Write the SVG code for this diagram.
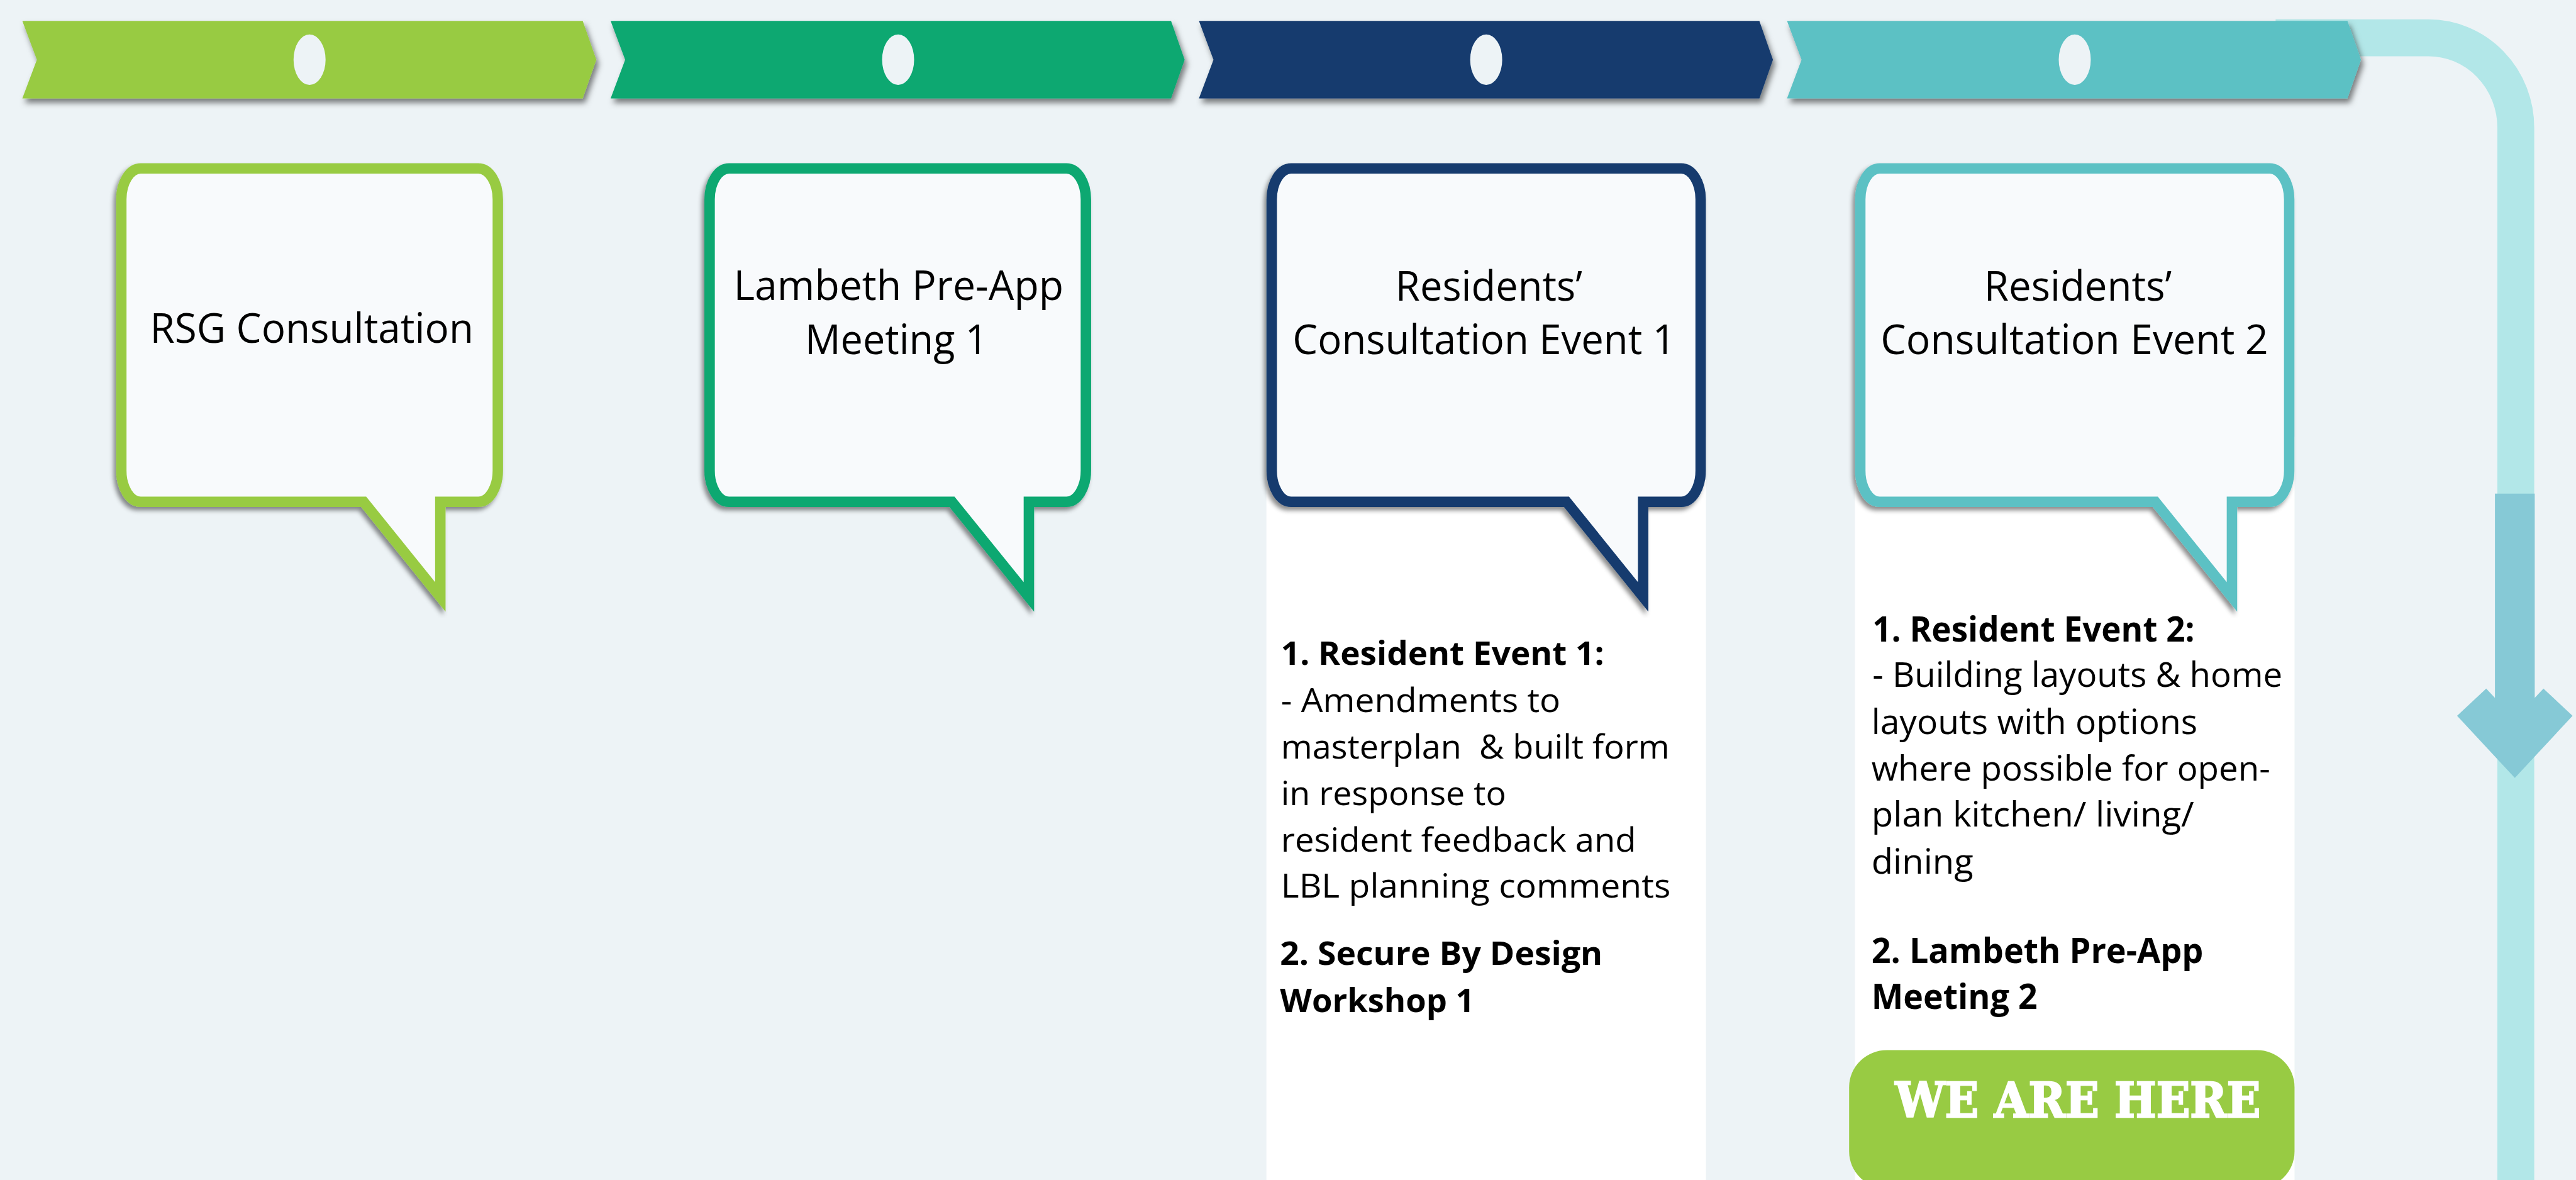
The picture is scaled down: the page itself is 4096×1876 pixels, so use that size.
<svg xmlns="http://www.w3.org/2000/svg" width="4096" height="1876" viewBox="0 0 4096 1876">
  <defs>
    <filter id="stageShadow" x="-5%" y="-20%" width="112%" height="160%">
      <feDropShadow dx="5" dy="9" stdDeviation="6" flood-color="#000" flood-opacity="0.5"/>
    </filter>
    <filter id="bubbleShadow" x="-8%" y="-8%" width="116%" height="120%">
      <feDropShadow dx="-5" dy="7" stdDeviation="5" flood-color="#000" flood-opacity="0.45"/>
    </filter>
    <path id="chevron" d="M0 43 L30 123 L0 203 L1155 203 L1183 123 L1155 43 Z"/>
  </defs>
  <style>
    .bg{fill:#edf3f6}
    .stage{filter:url(#stageShadow)}
    .dot{fill:#edf3f6}
    .bubble{fill:#f8fafc;stroke-width:21.5;stroke-linejoin:miter;stroke-miterlimit:6;filter:url(#bubbleShadow)}
    .panel{fill:#ffffff}
    .title{font-family:"Open Sans","Noto Sans",sans-serif;font-size:86px;fill:#000}
    .body{font-family:"Open Sans","Noto Sans",sans-serif;fill:#000}
    .b{font-weight:700}
    .here{font-family:"DejaVu Serif Condensed","DejaVu Serif",serif;font-weight:700;font-size:99px;fill:#fff;stroke:#fff;stroke-width:3;stroke-linejoin:miter}
  </style>

  <rect class="bg" x="0" y="0" width="4096" height="1876"/>

  <g transform="scale(0.77151)">
    <!-- flow line: horizontal run that bends down the right edge, with a down arrow -->
    <g id="connectors">
      <path d="M4690 78 H5005 A180 185 0 0 1 5185 263 V2460" fill="none" stroke="#b2e7e8" stroke-width="76"/>
      <polygon points="5142,1017 5224,1017 5224,1438 5242,1419 5302,1475 5183,1603 5064,1475 5124,1419 5142,1438" fill="#86c9d6"/>
    </g>

    <!-- timeline stages -->
    <g id="stage-1" class="stage">
      <use href="#chevron" x="46" fill="#98cb43"/>
      <ellipse class="dot" cx="638" cy="123" rx="33" ry="52"/>
    </g>
    <g id="stage-2" class="stage">
      <use href="#chevron" x="1258.5" fill="#09a871"/>
      <ellipse class="dot" cx="1851" cy="123" rx="33" ry="52"/>
    </g>
    <g id="stage-3" class="stage">
      <use href="#chevron" x="2471" fill="#143b6e"/>
      <ellipse class="dot" cx="3063" cy="123" rx="33" ry="52"/>
    </g>
    <g id="stage-4" class="stage">
      <use href="#chevron" x="3683" fill="#5cc1c4"/>
      <ellipse class="dot" cx="4276" cy="123" rx="33" ry="52"/>
    </g>

    <!-- note panels under the last two bubbles -->
    <g id="notes-event-1">
      <rect class="panel" x="2610" y="900" width="906" height="1560"/>
      <text class="body" font-size="68">
        <tspan class="b" x="2640" y="1370" textLength="666" lengthAdjust="spacingAndGlyphs">1. Resident Event 1:</tspan>
        <tspan x="2640" y="1467" textLength="576" lengthAdjust="spacingAndGlyphs">- Amendments to</tspan>
        <tspan x="2640" y="1563" textLength="801" lengthAdjust="spacingAndGlyphs" xml:space="preserve">masterplan  &amp; built form</tspan>
        <tspan x="2640" y="1659" textLength="464" lengthAdjust="spacingAndGlyphs">in response to</tspan>
        <tspan x="2640" y="1755" textLength="732" lengthAdjust="spacingAndGlyphs">resident feedback and</tspan>
        <tspan x="2640" y="1850" textLength="803" lengthAdjust="spacingAndGlyphs">LBL planning comments</tspan>
        <tspan class="b" x="2638" y="1988" textLength="665" lengthAdjust="spacingAndGlyphs">2. Secure By Design</tspan>
        <tspan class="b" x="2638" y="2085" textLength="401" lengthAdjust="spacingAndGlyphs">Workshop 1</tspan>
      </text>
    </g>
    <g id="notes-event-2">
      <rect class="panel" x="3823" y="900" width="906" height="1560"/>
      <text class="body" font-size="72">
        <tspan class="b" x="3859" y="1322" textLength="664" lengthAdjust="spacingAndGlyphs">1. Resident Event 2:</tspan>
        <tspan x="3859" y="1416" textLength="845" lengthAdjust="spacingAndGlyphs">- Building layouts &amp; home</tspan>
        <tspan x="3857" y="1512" textLength="672" lengthAdjust="spacingAndGlyphs">layouts with options</tspan>
        <tspan x="3857" y="1608" textLength="822" lengthAdjust="spacingAndGlyphs">where possible for open-</tspan>
        <tspan x="3857" y="1703" textLength="665" lengthAdjust="spacingAndGlyphs">plan kitchen/ living/</tspan>
        <tspan x="3857" y="1800" textLength="210" lengthAdjust="spacingAndGlyphs">dining</tspan>
        <tspan class="b" x="3857" y="1985" textLength="684" lengthAdjust="spacingAndGlyphs">2. Lambeth Pre-App</tspan>
        <tspan class="b" x="3857" y="2079" textLength="342" lengthAdjust="spacingAndGlyphs">Meeting 2</tspan>
      </text>
    </g>

    <!-- current-stage badge -->
    <g id="we-are-here">
      <rect x="3811" y="2164" width="918" height="285" rx="78" ry="76" fill="#98cb43"/>
      <text class="here" x="3906" y="2302" textLength="753" lengthAdjust="spacingAndGlyphs">WE ARE HERE</text>
    </g>

    <!-- speech bubbles -->
    <g id="bubble-rsg">
      <path class="bubble" stroke="#98cb43" d="M290 347 H986 A40 64 0 0 1 1026 411 V970 A40 64 0 0 1 986 1034 H907.5 V1230 L749.5 1034 H290 A40 64 0 0 1 250 970 V411 A40 64 0 0 1 290 347 Z"/>
      <text class="title" x="309" y="706" textLength="667" lengthAdjust="spacingAndGlyphs">RSG Consultation</text>
    </g>
    <g id="bubble-preapp-1">
      <path class="bubble" stroke="#09a871" d="M1502.5 347 H2198 A40 64 0 0 1 2238 411 V970 A40 64 0 0 1 2198 1034 H2120.5 V1230 L1962 1034 H1502.5 A40 64 0 0 1 1462.5 970 V411 A40 64 0 0 1 1502.5 347 Z"/>
      <text class="title">
        <tspan x="1512" y="618" textLength="680" lengthAdjust="spacingAndGlyphs">Lambeth Pre-App</tspan>
        <tspan x="1659" y="730" textLength="377" lengthAdjust="spacingAndGlyphs">Meeting 1</tspan>
      </text>
    </g>
    <g id="bubble-event-1">
      <path class="bubble" stroke="#143b6e" d="M2661 347 H3465 A40 64 0 0 1 3505 411 V970 A40 64 0 0 1 3465 1034 H3386.5 V1230 L3228.5 1034 H2661 A40 64 0 0 1 2621 970 V411 A40 64 0 0 1 2661 347 Z"/>
      <text class="title">
        <tspan x="2876" y="620" textLength="385" lengthAdjust="spacingAndGlyphs">Residents’</tspan>
        <tspan x="2664" y="730" textLength="789" lengthAdjust="spacingAndGlyphs">Consultation Event 1</tspan>
      </text>
    </g>
    <g id="bubble-event-2">
      <path class="bubble" stroke="#5cc1c4" d="M3874 347 H4678 A40 64 0 0 1 4718 411 V970 A40 64 0 0 1 4678 1034 H4600 V1230 L4442 1034 H3874 A40 64 0 0 1 3834 970 V411 A40 64 0 0 1 3874 347 Z"/>
      <text class="title">
        <tspan x="4089" y="620" textLength="387" lengthAdjust="spacingAndGlyphs">Residents’</tspan>
        <tspan x="3876" y="730" textLength="799" lengthAdjust="spacingAndGlyphs">Consultation Event 2</tspan>
      </text>
    </g>
  </g>
</svg>
